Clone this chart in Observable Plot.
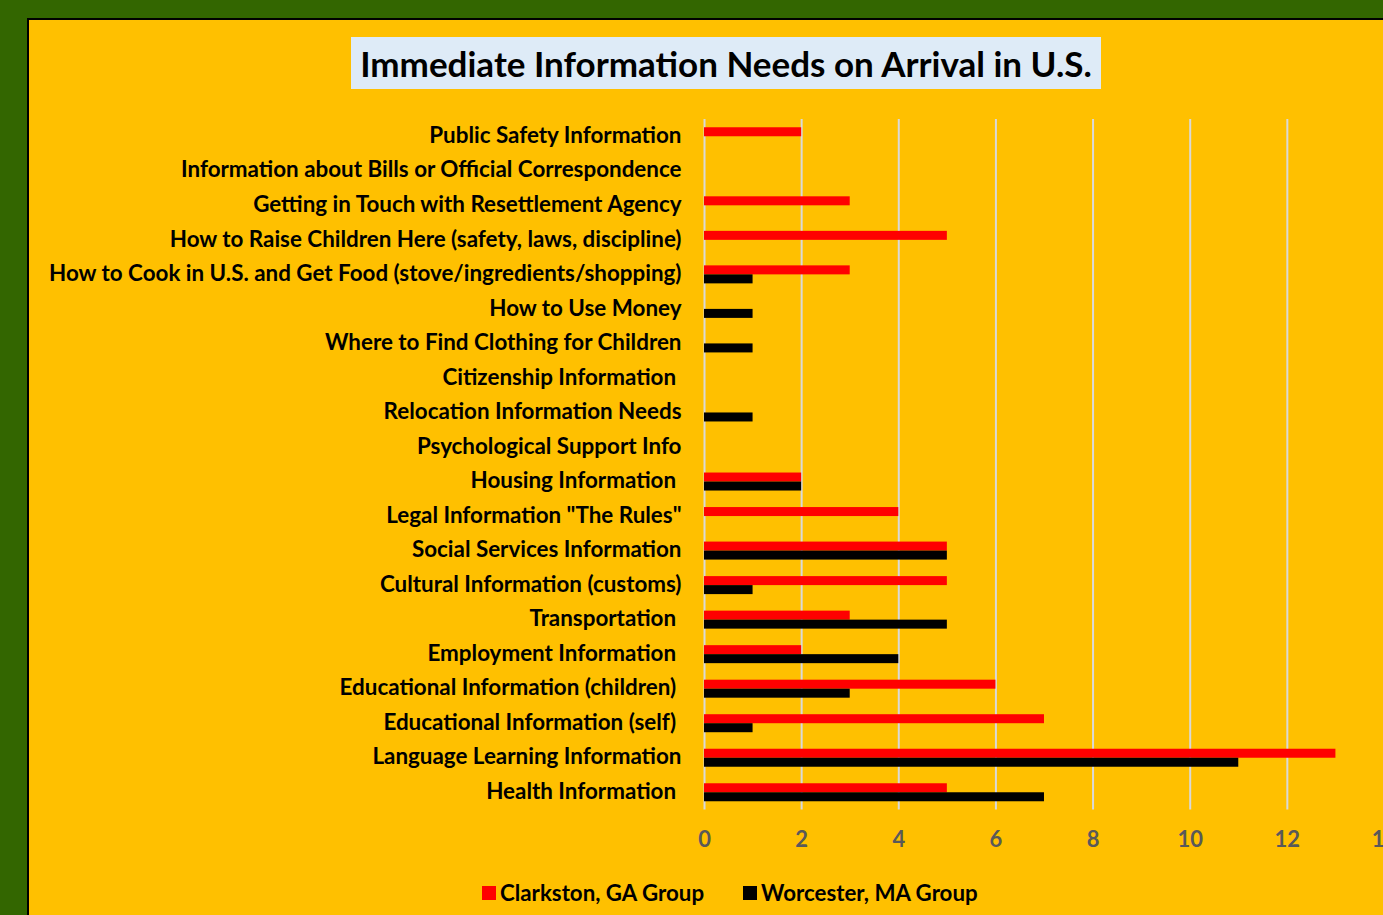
<!DOCTYPE html>
<html>
<head>
<meta charset="utf-8">
<script src="https://cdn.jsdelivr.net/npm/d3@7"></script>
<script src="https://cdn.jsdelivr.net/npm/@observablehq/plot@0.6"></script>
<style>
  html, body { margin: 0; padding: 0; width: 1383px; height: 915px; overflow: hidden; background: #336600; }
  #panel { position: absolute; left: 27px; top: 18px; width: 1400px; height: 920px; background: #FFC000; border-top: 2px solid #000; border-left: 2px solid #000; }
  #title { position: absolute; left: 351px; top: 37px; width: 750px; height: 52px; background: #DEEBF7; font-family: Lato, "Open Sans", sans-serif; font-weight: bold; font-size: 35px; line-height: 52px; text-align: center; color: #000; }
  #chart { position: absolute; left: 0; top: 0; width: 1420px; }
  #chart svg { max-width: none !important; }
  #legend { position: absolute; top: 879px; left: 482px; font-family: Lato, "Open Sans", sans-serif; font-weight: bold; font-size: 22.3px; color: #000; white-space: nowrap; display: flex; align-items: center; }
  .sw { display: inline-block; width: 14px; height: 14px; margin-right: 4px; }
  .item { display: inline-flex; align-items: center; margin-right: 39px; }
</style>
</head>
<body>
<div id="panel"></div>
<div id="title">Immediate Information Needs on Arrival in U.S.</div>
<div id="chart"></div>
<div id="legend"></div>
<script>
const categories = [
  "Public Safety Information",
  "Information about Bills or Official Correspondence",
  "Getting in Touch with Resettlement Agency",
  "How to Raise Children Here (safety, laws, discipline)",
  "How to Cook in U.S. and Get Food (stove/ingredients/shopping)",
  "How to Use Money",
  "Where to Find Clothing for Children",
  "Citizenship Information\u00a0",
  "Relocation Information Needs",
  "Psychological Support Info",
  "Housing Information\u00a0",
  "Legal Information \"The Rules\"",
  "Social Services Information",
  "Cultural Information (customs)",
  "Transportation\u00a0",
  "Employment Information\u00a0",
  "Educational Information (children)\u00a0",
  "Educational Information (self)\u00a0",
  "Language Learning Information",
  "Health Information\u00a0"
];
const clarkston = [2, 0, 3, 5, 3, 0, 0, 0, 0, 0, 2, 4, 5, 5, 3, 2, 6, 7, 13, 5];
const worcester = [0, 0, 0, 0, 1, 1, 1, 0, 1, 0, 2, 0, 5, 1, 5, 4, 3, 1, 11, 7];
const seriesNames = ["Clarkston, GA Group", "Worcester, MA Group"];
const seriesColors = ["#FF0000", "#000000"];
const xTicks = [0, 2, 4, 6, 8, 10, 12, 14];

const rowsC = categories.map((c, i) => ({category: c, value: clarkston[i]}));
const rowsW = categories.map((c, i) => ({category: c, value: worcester[i]}));

const W = 1420, H = 870;
const barH = 9;
const step = (792 - 136) / 19;
const inset = (step - barH) / 2;

const chart = Plot.plot({
  width: W,
  height: H,
  marginLeft: 704,
  marginRight: W - (704 + 14 * 48.57),
  marginTop: 119,
  marginBottom: H - (119 + step * 20),
  style: {background: "transparent", fontFamily: "Lato, 'Open Sans', sans-serif", fontWeight: "bold", fontSize: "22px", maxWidth: "none"},
  x: {domain: [0, 14], ticks: xTicks, label: null},
  y: {domain: categories, padding: 0, round: false, label: null},
  marks: [
    Plot.gridX(xTicks, {stroke: "#D9D9D9", strokeOpacity: 1, strokeWidth: 2}),
    Plot.barX(rowsC, {x: "value", y: "category", fill: seriesColors[0], insetTop: inset, insetBottom: inset, dy: -barH / 2}),
    Plot.barX(rowsW, {x: "value", y: "category", fill: seriesColors[1], insetTop: inset, insetBottom: inset, dy: barH / 2}),
    Plot.axisX({ticks: xTicks, tickSize: 0, tickPadding: 21, fill: "#595959", fontSize: 22, fontWeight: "bold", label: null}),
    Plot.axisY({tickSize: 0, tickPadding: 23, fill: "#000", fontSize: 22.4, fontWeight: "bold", label: null, dy: -1})
  ]
});
document.getElementById("chart").appendChild(chart);

const legend = document.getElementById("legend");
seriesNames.forEach((n, i) => {
  const it = document.createElement("span");
  it.className = "item";
  const sw = document.createElement("span");
  sw.className = "sw";
  sw.style.background = seriesColors[i];
  it.appendChild(sw);
  it.appendChild(document.createTextNode(n));
  legend.appendChild(it);
});
</script>
</body>
</html>
